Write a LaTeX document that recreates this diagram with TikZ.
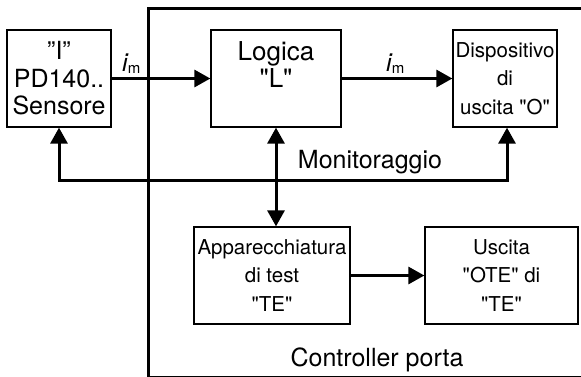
\documentclass[tikz,border=0pt]{standalone}
\usepackage{fontspec}
\setmainfont{TeX Gyre Heros}[Ligatures=TeXOff]
\usetikzlibrary{arrows.meta}
\begin{document}
\begin{tikzpicture}[x=1pt,y=-1pt,
  box/.style={draw, line width=1.3pt, inner sep=0pt, align=center},
  big/.style={font=\fontsize{25}{27.5}\selectfont},
  small/.style={font=\fontsize{20.5}{28.5}\selectfont},
  arr/.style={line width=3pt, -{Triangle[length=16pt,width=17pt]}},
  darr/.style={line width=3pt, {Triangle[length=16pt,width=17pt]}-{Triangle[length=16pt,width=17pt]}},
  lab/.style={anchor=base west, inner sep=0pt, font=\fontsize{25}{28}\selectfont}]
\useasboundingbox (0,0) rectangle (581,376);
\fill[white] (0,0) rectangle (581,376);
\begin{scope}
  \clip (0,0) rectangle (581,376);
  \draw[line width=3pt] (148,8) rectangle (600,377.5);
\end{scope}
\node[box,big,minimum width=104pt,minimum height=97pt] (S) at (59,78.5) {”I”\\PD140..\\Sensore};
\node[box,minimum width=130pt,minimum height=97pt,
  label={[anchor=north,yshift=-11.7pt,inner sep=0pt,align=center,font=\fontsize{26}{27.4}\selectfont]north:Logica\\"L"}] (L) at (276,78.5) {};
\node[box,small,minimum width=104pt,minimum height=97pt] (D) at (505,78.5) {Dispositivo\\di\\uscita "O"};
\node[box,small,minimum width=156pt,minimum height=97pt] (A) at (272,275.5) {Apparecchiatura\\di test\\"TE"};
\node[box,small,minimum width=153pt,minimum height=97pt] (U) at (501.5,275.5) {Uscita\\"OTE" di\\"TE"};
\draw[arr] (S.east) -- (L.west);
\draw[arr] (L.east) -- (D.west);
\node[lab] (im1) at (122,71) {{\itshape i}\raisebox{-2pt}{\fontsize{15}{15}\selectfont m}};
\node[lab] (im2) at (386,71) {{\itshape i}\raisebox{-2pt}{\fontsize{15}{15}\selectfont m}};
\coordinate (m1) at (59,180);
\coordinate (m2) at (507,180);
\draw[darr] (S.south) -- (m1) -- (m2) -- (D.south -| m2);
\draw[darr] (L.south) -- (L.south |- A.north);
\draw[arr] (A.east) -- (U.west);
\node[big,inner sep=0pt] (mon) at (370,162) {Monitoraggio};
\node[big,inner sep=0pt] (cp) at (377,360) {Controller porta};
\end{tikzpicture}
\end{document}
